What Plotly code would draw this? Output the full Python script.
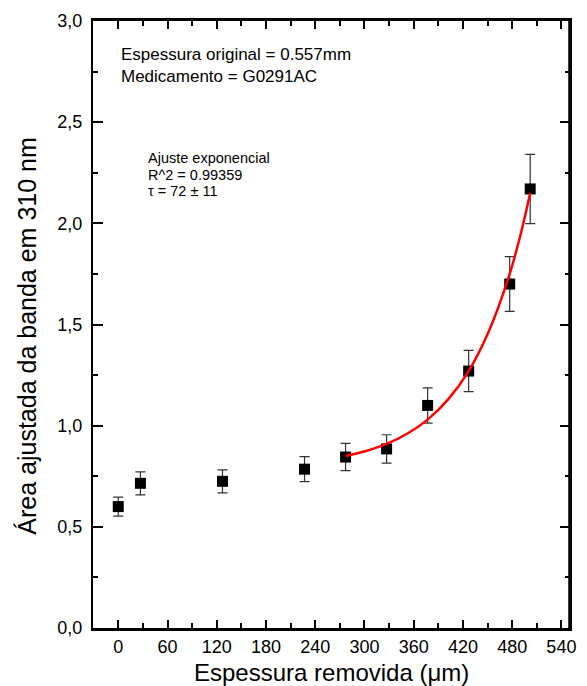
import plotly.graph_objects as go

# Data
espessura = [0, 27, 127, 227, 277, 327, 377, 427, 477, 502]
area = [0.60, 0.715, 0.725, 0.785, 0.845, 0.885, 1.10, 1.27, 1.70, 2.17]
erro = [0.047, 0.057, 0.057, 0.062, 0.067, 0.070, 0.087, 0.102, 0.135, 0.171]

# Exponential fit curve
ajuste_x = [277, 302, 327, 352, 377, 402, 427, 452, 477, 490, 502]
ajuste_y = [0.85, 0.875, 0.91, 0.96, 1.03, 1.13, 1.27, 1.47, 1.75, 1.94, 2.15]

x_ticks = [0, 60, 120, 180, 240, 300, 360, 420, 480, 540]
y_ticks = [0.0, 0.5, 1.0, 1.5, 2.0, 2.5, 3.0]

info_lines = ["Espessura original = 0.557mm", "Medicamento = G0291AC"]
fit_lines = ["Ajuste exponencial", "R^2 = 0.99359", "τ = 72 ± 11"]

FONT = "Arial, Liberation Sans, sans-serif"

fig = go.Figure()
fig.add_trace(go.Scatter(
    x=espessura, y=area, mode="markers",
    marker=dict(symbol="square", size=11, color="black"),
    error_y=dict(type="data", array=erro, visible=True, color="#333333",
                 thickness=1.2, width=5),
    showlegend=False,
))
fig.add_trace(go.Scatter(
    x=ajuste_x, y=ajuste_y, mode="lines",
    line=dict(color="red", width=2.5, shape="spline"),
    showlegend=False,
))

fig.update_layout(
    width=587, height=686,
    margin=dict(l=93, r=11, t=17, b=58),
    paper_bgcolor="white", plot_bgcolor="white",
    font=dict(family=FONT, color="black", size=18),
    separators=",.",
    xaxis=dict(
        range=[-30.8, 550.5], tickvals=x_ticks, ticks="inside", ticklen=8,
        tickwidth=2, tickcolor="black", showline=True, linewidth=3,
        linecolor="black", mirror="allticks", showgrid=False, zeroline=False,
        tickfont=dict(size=18), ticklabeloverflow="allow",
        minor=dict(dtick=30, tick0=0, ticks="inside", ticklen=5, tickwidth=2,
                   tickcolor="black"),
    ),
    yaxis=dict(
        range=[0, 3.0], tickvals=y_ticks, tickformat=".1f", ticks="inside",
        ticklen=10, tickwidth=1.5, tickcolor="black", showline=True,
        linewidth=2, linecolor="black", mirror="allticks", showgrid=False,
        zeroline=False, tickfont=dict(size=18), ticklabeloverflow="allow",
        ticklabelstandoff=5,
        minor=dict(dtick=0.25, tick0=0, ticks="inside", ticklen=5,
                   tickwidth=1.5, tickcolor="black"),
    ),
)

# right border thicker
fig.add_shape(type="line", xref="paper", yref="paper", x0=1, x1=1, y0=0, y1=1,
              line=dict(color="black", width=3.5))

fig.add_annotation(text="<br>".join(info_lines),
                   xref="paper", yref="paper", x=0.055, y=0.963,
                   xanchor="left", yanchor="top", align="left", showarrow=False,
                   font=dict(size=17, family=FONT))
for yy, line in zip([0.7739, 0.7469, 0.7199], fit_lines):
    fig.add_annotation(text=line, xref="paper", yref="paper", x=0.111, y=yy,
                       xanchor="left", yanchor="middle", align="left",
                       showarrow=False, font=dict(size=14.5, family=FONT))
fig.add_annotation(text="Espessura removida (μm)", xref="paper", yref="paper",
                   x=0.499, y=-0.074, xanchor="center", yanchor="middle",
                   showarrow=False, font=dict(size=24, family=FONT))
fig.add_annotation(text="Área ajustada da banda em 310 nm", xref="paper",
                   yref="paper", x=-0.139, y=0.481, xanchor="center",
                   yanchor="middle", textangle=-90, showarrow=False,
                   font=dict(size=25, family=FONT))

fig.write_html("out.html", config={"displayModeBar": False},
               post_script="document.body.style.margin='0';")
